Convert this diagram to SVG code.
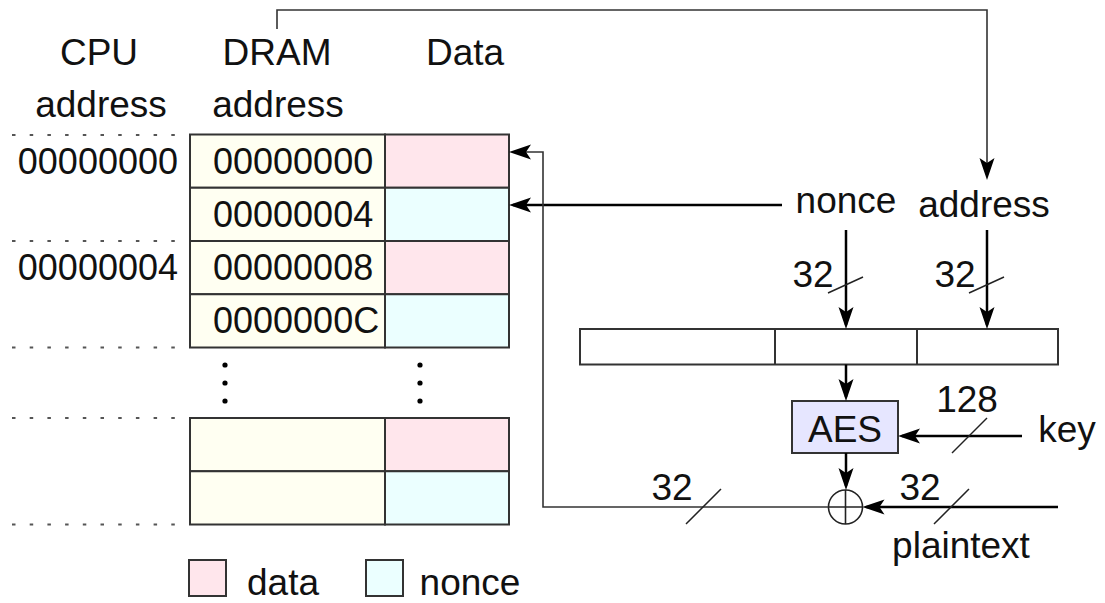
<svg xmlns="http://www.w3.org/2000/svg" width="1105" height="603" viewBox="0 0 1105 603">
<style>
text{font-family:"Liberation Sans",Arial,sans-serif;font-size:37px;fill:#111}
.hex{font-size:36px}
.m{text-anchor:middle}
.e{text-anchor:end}
.cell{stroke:#333;stroke-width:2}
.addr{fill:#FFFFF2}
.dat{fill:#FFE6EC}
.non{fill:#EBFFFF}
.dot{stroke:#555;stroke-width:2;stroke-dasharray:3.5 14.2;fill:none}
.thick{stroke:#000;stroke-width:2.5;fill:none}
.thin{stroke:#333;stroke-width:1.6;fill:none}
.sl{stroke:#222;stroke-width:1.5}
</style>
<defs>
<marker id="ah" markerUnits="userSpaceOnUse" markerWidth="22" markerHeight="16" viewBox="0 0 22 16" refX="18" refY="8" orient="auto">
<path d="M22,8 L0,0.5 L5,8 L0,15.5 Z" fill="#000"/>
</marker>
</defs>
<rect width="1105" height="603" fill="#fff"/>

<g id="headers">
<text class="m" x="99" y="65">CPU</text>
<text class="m" x="101" y="117">address</text>
<text class="m" x="277" y="65">DRAM</text>
<text class="m" x="278" y="117">address</text>
<text class="m" x="465" y="65">Data</text>
</g>

<g id="dotted-lines">
<line class="dot" x1="12" y1="135" x2="178" y2="135"/>
<line class="dot" x1="12" y1="241" x2="178" y2="241"/>
<line class="dot" x1="12" y1="347.5" x2="178" y2="347.5"/>
<line class="dot" x1="12" y1="418" x2="178" y2="418"/>
<line class="dot" x1="12" y1="524.5" x2="178" y2="524.5"/>
</g>

<g id="cpu-addresses">
<text class="hex e" x="178" y="174">00000000</text>
<text class="hex e" x="178" y="280">00000004</text>
</g>

<g id="memory-table">
<rect class="cell addr" x="190" y="134.5" width="195" height="53.25"/>
<rect class="cell dat" x="385" y="134.5" width="124" height="53.25"/>
<rect class="cell addr" x="190" y="187.75" width="195" height="53.25"/>
<rect class="cell non" x="385" y="187.75" width="124" height="53.25"/>
<rect class="cell addr" x="190" y="241" width="195" height="53.25"/>
<rect class="cell dat" x="385" y="241" width="124" height="53.25"/>
<rect class="cell addr" x="190" y="294.25" width="195" height="53.25"/>
<rect class="cell non" x="385" y="294.25" width="124" height="53.25"/>
<text class="hex" x="213" y="174">00000000</text>
<text class="hex" x="213" y="227">00000004</text>
<text class="hex" x="213" y="280">00000008</text>
<text class="hex" x="213" y="333">0000000C</text>
</g>

<g id="ellipsis">
<circle cx="225" cy="365" r="2.6" fill="#000"/>
<circle cx="225" cy="383" r="2.6" fill="#000"/>
<circle cx="225" cy="401" r="2.6" fill="#000"/>
<circle cx="420" cy="365" r="2.6" fill="#000"/>
<circle cx="420" cy="383" r="2.6" fill="#000"/>
<circle cx="420" cy="401" r="2.6" fill="#000"/>
</g>

<g id="memory-table-lower">
<rect class="cell addr" x="190" y="418" width="195" height="53.25"/>
<rect class="cell dat" x="385" y="418" width="124" height="53.25"/>
<rect class="cell addr" x="190" y="471.25" width="195" height="53.25"/>
<rect class="cell non" x="385" y="471.25" width="124" height="53.25"/>
</g>

<g id="legend">
<rect class="cell dat" x="189" y="560" width="37" height="36"/>
<text class="m" x="283" y="595">data</text>
<rect class="cell non" x="366" y="560" width="37" height="36"/>
<text class="m" x="470" y="595">nonce</text>
</g>

<g id="nonce-label"><text class="m" x="846" y="213">nonce</text></g>
<g id="address-label"><text class="m" x="984" y="217">address</text></g>

<g id="counter-block">
<rect class="cell" x="580" y="329" width="478" height="35.5" fill="#fff"/>
<line class="cell" x1="775" y1="329" x2="775" y2="364.5"/>
<line class="cell" x1="917" y1="329" x2="917" y2="364.5"/>
</g>

<g id="aes">
<rect class="cell" x="792" y="401" width="106" height="52" fill="#E6E6FF"/>
<text class="m" x="845" y="442">AES</text>
</g>

<g id="key-label"><text class="m" x="1067" y="442">key</text></g>
<g id="plaintext-label"><text class="m" x="961" y="558">plaintext</text></g>

<g id="xor">
<circle cx="845.5" cy="507" r="17" fill="#fff" stroke="#222" stroke-width="1.6"/>
<line x1="845.5" y1="490" x2="845.5" y2="524" stroke="#222" stroke-width="1.6"/>
<line x1="828.5" y1="507" x2="862.5" y2="507" stroke="#222" stroke-width="1.6"/>
</g>

<g id="connectors">
<path class="thin" d="M277,29 V10 H987 V176" marker-end="url(#ah)"/>
<path class="thick" d="M782,205 H513" marker-end="url(#ah)"/>
<path class="thin" d="M828.5,507 H543 V152 H513" marker-end="url(#ah)"/>
<path class="thick" d="M846,230 V325" marker-end="url(#ah)"/>
<path class="thick" d="M987,230 V325" marker-end="url(#ah)"/>
<path class="thick" d="M846,364.5 V397" marker-end="url(#ah)"/>
<path class="thick" d="M1022,436 H902" marker-end="url(#ah)"/>
<path class="thick" d="M846,453 V486" marker-end="url(#ah)"/>
<path class="thick" d="M1058,507 H866.5" marker-end="url(#ah)"/>
<line class="sl" x1="828" y1="293" x2="863" y2="277"/>
<line class="sl" x1="969" y1="293" x2="1004" y2="277"/>
<line class="sl" x1="952" y1="453" x2="987" y2="418"/>
<line class="sl" x1="686" y1="524" x2="721" y2="489"/>
<line class="sl" x1="934" y1="524" x2="969" y2="489"/>
<text class="m" x="813" y="287">32</text>
<text class="m" x="955" y="287">32</text>
<text class="m" x="967" y="412">128</text>
<text class="m" x="672" y="500">32</text>
<text class="m" x="920" y="500">32</text>
</g>
</svg>
